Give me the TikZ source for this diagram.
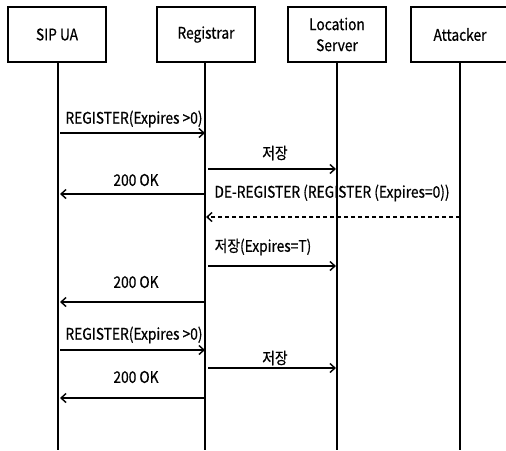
\documentclass[tikz,border=0pt]{standalone}
\usepackage{fontspec}
\setmainfont[FakeStretch=0.86,FakeBold=0.6]{Noto Sans CJK KR}
\usetikzlibrary{arrows.meta}
\begin{document}
\begin{tikzpicture}[x=1pt,y=-1pt,
  every node/.style={font=\fontsize{16}{18}\selectfont},
  actor/.style={draw,line width=1.5pt,minimum width=98pt,minimum height=55pt,align=center,inner sep=0pt},
  life/.style={line width=1.5pt},
  msg/.style={line width=1.4pt,-{Straight Barb[length=5pt,width=9pt]}},
  dmsg/.style={msg,dash pattern=on 4pt off 3pt},
  lbl/.style={inner sep=0pt,anchor=center}]
\clip (0,0) rectangle (506,450);
\useasboundingbox (0,0) rectangle (506,450);
\node[actor] (ua) at (57,34.5) {SIP UA};
\node[actor] (reg) at (206,34.5) {Registrar};
\node[actor] (loc) at (337,34.5) {Location\\[3pt]Server};
\node[actor] (att) at (460,34.5) {Attacker};
\coordinate (uab) at (58,450);
\coordinate (regb) at (205,450);
\coordinate (locb) at (337,450);
\coordinate (attb) at (460,450);
\draw[life] (ua.south -| uab) -- (uab);
\draw[life] (reg.south -| regb) -- (regb);
\draw[life] (loc.south -| locb) -- (locb);
\draw[life] (att.south -| attb) -- (attb);
% messages
\draw[msg,shorten <=2pt] (uab |- 0,133) -- (regb |- 0,133);
\node[lbl] (m1) at (134,119) {REGISTER(Expires >0)};
\draw[msg,shorten <=3pt,shorten >=1pt] (regb |- 0,169) -- (locb |- 0,169);
\node[lbl] (m2) at (275,153) {저장};
\draw[msg,shorten >=2pt] (regb |- 0,194) -- (uab |- 0,194);
\node[lbl] (m3) at (136,180) {200 OK};
\draw[dmsg,shorten >=1pt] (attb |- 0,217) -- (regb |- 0,217);
\node[lbl] (m4) at (332,193) {DE-REGISTER (REGISTER (Expires=0))};
\draw[msg,shorten <=3pt,shorten >=1pt] (regb |- 0,266) -- (locb |- 0,266);
\node[lbl] (m5) at (263,247) {저장(Expires=T)};
\draw[msg,shorten >=2pt] (regb |- 0,302) -- (uab |- 0,302);
\node[lbl] (m6) at (136,282) {200 OK};
\draw[msg,shorten <=2pt] (uab |- 0,350) -- (regb |- 0,350);
\node[lbl] (m7) at (134,335) {REGISTER(Expires >0)};
\draw[msg,shorten <=3pt,shorten >=1pt] (regb |- 0,368) -- (locb |- 0,368);
\node[lbl] (m8) at (275,358) {저장};
\draw[msg,shorten >=2pt] (regb |- 0,398) -- (uab |- 0,398);
\node[lbl] (m9) at (136,377) {200 OK};
\end{tikzpicture}
\end{document}
